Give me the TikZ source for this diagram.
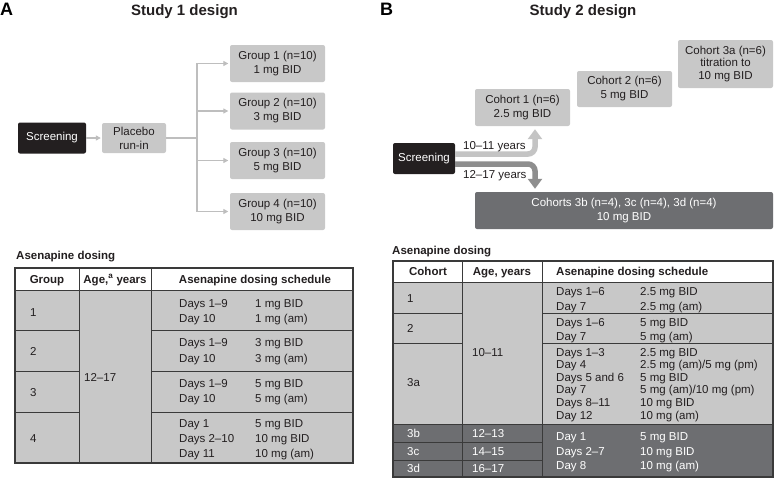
\documentclass[tikz,border=0pt]{standalone}
\usepackage{fontspec}
\setmainfont{Liberation Sans}
\usetikzlibrary{arrows.meta}
\definecolor{ink}{HTML}{231F20}
\definecolor{boxgray}{HTML}{C8C8C8}
\definecolor{darkbox}{HTML}{6D6E71}
\definecolor{linegray}{HTML}{BEBEBE}
\definecolor{arrowlight}{HTML}{C4C4C4}
\definecolor{arrowdark}{HTML}{8E8E8E}
\definecolor{rulec}{HTML}{3A3A3A}
\begin{document}
\begin{tikzpicture}[x=1pt,y=-1pt,
  txt/.style={inner sep=0pt, text=ink, font=\fontsize{11.5}{14}\selectfont},
  wtxt/.style={inner sep=0pt, text=white, font=\fontsize{11.5}{14}\selectfont},
  hdr/.style={inner sep=0pt, text=ink, font=\fontsize{11.5}{14}\selectfont\bfseries},
  ttl/.style={inner sep=0pt, text=ink, font=\fontsize{15}{18}\selectfont\bfseries},
  panel/.style={inner sep=0pt, text=black, font=\fontsize{18}{20}\selectfont\bfseries},
  lbox/.style={fill=boxgray, rounded corners=2pt, inner sep=0pt, align=center, text=ink,
     font=\fontsize{11.5}{14}\selectfont},
  blackbox/.style={fill=ink, rounded corners=2pt, inner sep=0pt, align=center, text=white,
     font=\fontsize{11.5}{14}\selectfont},
  dbox/.style={fill=darkbox, rounded corners=2pt, inner sep=0pt, align=center, text=white,
     font=\fontsize{11.5}{14}\selectfont},
  conn/.style={draw=linegray, line width=1.2pt, -{Triangle[length=5pt,width=5pt]}},
  tline/.style={draw=rulec, line width=0.9pt},
]
\useasboundingbox (0,0) rectangle (774,479);
\fill[white] (0,0) rectangle (774,479);

% ---------------- Panel A ----------------
\node[panel, anchor=base west] (pa) at (0,15) {A};
\node[ttl, anchor=base] (ta) at (184.5,15.5) {Study 1 design};

\node[blackbox, minimum width=68pt, minimum height=31pt] (scrA) at (52,138) {Screening};
\node[lbox, minimum width=64pt, minimum height=30pt] (plac) at (134,138) {Placebo\\run-in};
\node[lbox, minimum width=95pt, minimum height=37pt] (g1) at (277.5,63.5) {Group 1 (n=10)\\1 mg BID};
\node[lbox, minimum width=95pt, minimum height=37pt] (g2) at (277.5,111) {Group 2 (n=10)\\3 mg BID};
\node[lbox, minimum width=95pt, minimum height=37pt] (g3) at (277.5,160.5) {Group 3 (n=10)\\5 mg BID};
\node[lbox, minimum width=95pt, minimum height=37pt] (g4) at (277.5,211.5) {Group 4 (n=10)\\10 mg BID};

\draw[conn, shorten >=1pt] (scrA.east) -- (plac.west);
\coordinate (br) at (197,138);
\draw[draw=linegray, line width=1.2pt] (plac.east) -- (br);
\foreach \g in {g1,g2,g3,g4}
  \draw[conn, shorten >=1.5pt] (br) |- (\g.west);

% ---------------- Table A ----------------
\node[hdr, anchor=base west] (tha) at (16,259) {Asenapine dosing};
\fill[boxgray] (15,290) rectangle (353,463);
\draw[tline] (15,290) -- (353,290);
\draw[tline] (79,268) -- (79,463);
\draw[tline] (151,268) -- (151,463);
\foreach \yy in {330.5,371,412} {
  \draw[tline] (15,\yy) -- (79,\yy);
  \draw[tline] (151,\yy) -- (353,\yy);
}
\draw[tline, line width=1.1pt] (15,268) rectangle (353,463);

\node[hdr, anchor=base] (ha1) at (47,283) {Group};
\node[hdr, anchor=base] (ha2) at (115,283) {Age,\textsuperscript{a} years};
\node[hdr, anchor=base] (ha3) at (255,283) {Asenapine dosing schedule};

\foreach \yy/\t [count=\i] in {316/1,355/2,396/3,442/4}
  \node[txt, anchor=base west] (ga\i) at (30,\yy) {\t};
\node[txt, anchor=base west] (agea) at (84,381) {12–17};

\foreach \yy/\a/\b [count=\i] in {307/{Days 1–9}/{1 mg BID}, 322/{Day 10}/{1 mg (am)},
   346/{Days 1–9}/{3 mg BID}, 362/{Day 10}/{3 mg (am)},
   387/{Days 1–9}/{5 mg BID}, 402/{Day 10}/{5 mg (am)},
   427/{Day 1}/{5 mg BID}, 442/{Days 2–10}/{10 mg BID}, 457/{Day 11}/{10 mg (am)}} {
  \node[txt, anchor=base west] (sa\i) at (179,\yy) {\a};
  \node[txt, anchor=base west] (sb\i) at (255,\yy) {\b};
}

% ---------------- Panel B ----------------
\node[panel, anchor=base west] (pb) at (380,15) {B};
\node[ttl, anchor=base] (tb) at (583,15.5) {Study 2 design};

\node[lbox, minimum width=95pt, minimum height=48pt, font=\fontsize{11.5}{12.8}\selectfont] (c3a) at (725.5,64) {Cohort 3a (n=6)\\titration to\\10 mg BID};
\node[lbox, minimum width=95pt, minimum height=36pt] (c2) at (624.5,89) {Cohort 2 (n=6)\\5 mg BID};
\node[lbox, minimum width=95pt, minimum height=37pt] (c1) at (522.5,107.5) {Cohort 1 (n=6)\\2.5 mg BID};
\node[dbox, minimum width=298pt, minimum height=37pt] (c3b) at (624,210.5) {Cohorts 3b (n=4), 3c (n=4), 3d (n=4)\\10 mg BID};
\node[blackbox, minimum width=62pt, minimum height=31pt] (scrB) at (424,158.5) {Screening};

\draw[draw=arrowlight, line width=5.5pt, rounded corners=7pt, shorten >=3pt,
  -{Triangle[length=10pt,width=14pt]}] (scrB.east |- 0,154) -- (535,154) -- (c1.south -| 535,0);
\draw[draw=arrowdark, line width=5.5pt, rounded corners=7pt, shorten >=3pt,
  -{Triangle[length=10pt,width=14pt]}] (scrB.east |- 0,164) -- (535,164) -- (c3b.north -| 535,0);
\node[txt, anchor=base west] (l1) at (463,149) {10–11 years};
\node[txt, anchor=base west] (l2) at (463,178.5) {12–17 years};

% ---------------- Table B ----------------
\node[hdr, anchor=base west] (thb) at (392,254) {Asenapine dosing};
\fill[boxgray] (393,282) rectangle (773,424);
\fill[darkbox] (393,424) rectangle (773,477);
\draw[tline] (393,282) -- (773,282);
\draw[tline] (393,424) -- (773,424);
\draw[tline] (462,261) -- (462,477);
\draw[tline] (542,261) -- (542,477);
\foreach \yy in {313,343} {
  \draw[tline] (393,\yy) -- (462,\yy);
  \draw[tline] (542,\yy) -- (773,\yy);
}
\foreach \yy in {442,460}
  \draw[tline] (393,\yy) -- (542,\yy);
\draw[tline, line width=1.1pt] (393,261) rectangle (773,477);

\node[hdr, anchor=base] (hb1) at (428,275.5) {Cohort};
\node[hdr, anchor=base] (hb2) at (502,275.5) {Age, years};
\node[hdr, anchor=base west] (hb3) at (556,275.5) {Asenapine dosing schedule};

\foreach \yy/\t [count=\i] in {302/1,332/2,386/3a}
  \node[txt, anchor=base west] (cb\i) at (407,\yy) {\t};
\foreach \yy/\t/\g [count=\i] in {437/3b/{12–13},455/3c/{14–15},472/3d/{16–17}} {
  \node[wtxt, anchor=base west] (cd\i) at (407,\yy) {\t};
  \node[wtxt, anchor=base west] (ad\i) at (472,\yy) {\g};
}
\node[txt, anchor=base west] (ageb) at (472,356) {10–11};

\foreach \yy/\a/\b [count=\i] in {295/{Days 1–6}/{2.5 mg BID}, 310/{Day 7}/{2.5 mg (am)},
   326/{Days 1–6}/{5 mg BID}, 340/{Day 7}/{5 mg (am)},
   356/{Days 1–3}/{2.5 mg BID}, 368.6/{Day 4}/{2.5 mg (am)/5 mg (pm)},
   381.2/{Days 5 and 6}/{5 mg BID}, 393.8/{Day 7}/{5 mg (am)/10 mg (pm)},
   406.4/{Days 8–11}/{10 mg BID}, 419/{Day 12}/{10 mg (am)}} {
  \node[txt, anchor=base west] (sc\i) at (556,\yy) {\a};
  \node[txt, anchor=base west] (sd\i) at (640,\yy) {\b};
}
\foreach \yy/\a/\b [count=\i] in {440/{Day 1}/{5 mg BID}, 455/{Days 2–7}/{10 mg BID},
   469/{Day 8}/{10 mg (am)}} {
  \node[wtxt, anchor=base west] (se\i) at (556,\yy) {\a};
  \node[wtxt, anchor=base west] (sf\i) at (640,\yy) {\b};
}
\end{tikzpicture}
\end{document}
